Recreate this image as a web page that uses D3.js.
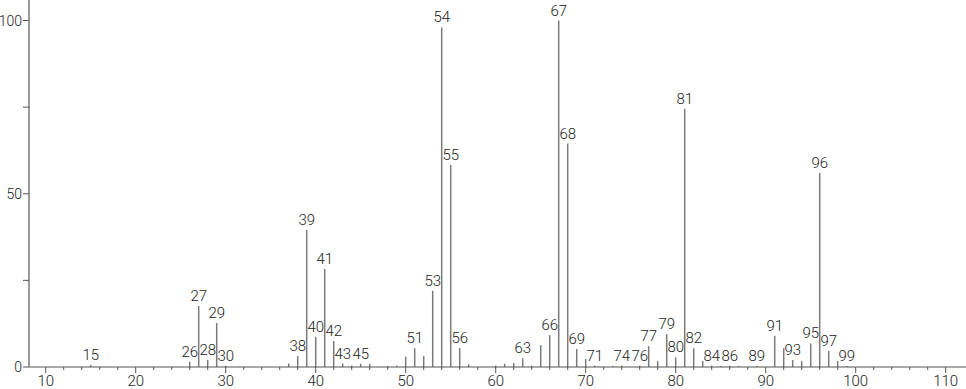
<!DOCTYPE html>
<html>
<head>
<meta charset="utf-8">
<script src="https://cdn.jsdelivr.net/npm/d3@7"></script>
<style>
  body { margin: 0; background: #fff; }
  svg text { font-family: Roboto, "Noto Sans", sans-serif; font-weight: 300; fill: #222; }
</style>
</head>
<body>
<svg id="chart" width="966" height="389"></svg>
<script>
// m/z values and relative intensities
const mz = [15, 26, 27, 28, 29, 30, 37, 38, 39, 40, 41, 42, 43, 44, 45, 46, 48, 49, 50, 51, 52, 53, 54, 55, 56, 57,
    60, 61, 62, 63, 64, 65, 66, 67, 68, 69, 70, 71, 73, 74, 76, 77, 78, 79, 80, 81, 82, 83, 84, 85, 86, 87, 89,
    91, 92, 93, 94, 95, 96, 97, 98, 99];
const intensity = [0.6, 1.5, 17.6, 2, 12.7, 0.4, 1, 3.2, 39.5, 8.7, 28.3, 7.5, 1, 0.4, 0.9, 0.9, 0.3, 0.4, 3, 5.4, 3.2, 22, 98, 58.3, 5.5, 0.8,
    0.4, 0.9, 1.2, 2.5, 0.4, 6.3, 9.2, 100, 64.5, 5.2, 2.3, 0.4, 0.3, 0.4, 0.4, 6, 1.7, 9.5, 2.8, 74.5, 5.4, 1.7, 0.4, 0.3, 0.4, 0.3, 0.3,
    9, 5.4, 2, 1.7, 6.8, 56, 4.6, 1.7, 0.3];
const labelled = [15, 26, 27, 28, 29, 30, 38, 39, 40, 41, 42, 43, 45, 51, 53, 54, 55, 56, 63, 66, 67, 68, 69, 71,
    74, 76, 77, 79, 80, 81, 82, 84, 86, 89, 91, 93, 95, 96, 97, 99];
const xTicks = [10, 20, 30, 40, 50, 60, 70, 80, 90, 100, 110];
const yTicks = [0, 50, 100];

const svg = d3.select('#chart');
const W = 966;
const x = d3.scaleLinear().domain([10, 110]).range([45.7, 945.7]);
const y = d3.scaleLinear().domain([0, 100]).range([367, 20.5]);
const x0 = 29;

const peaks = mz.map((m, i) => ({m: m, v: intensity[i]}));

// peaks
svg.append('g').selectAll('line.peak')
    .data(peaks)
    .join('line').attr('class', 'peak')
    .attr('x1', d => x(d.m)).attr('x2', d => x(d.m))
    .attr('y1', y(0)).attr('y2', d => y(d.v))
    .attr('stroke', '#7a7a7a')
    .attr('stroke-width', 1.5);

// x axis
const gx = svg.append('g');
gx.append('line')
    .attr('x1', x0).attr('x2', W).attr('y1', y(0)).attr('y2', y(0))
    .attr('stroke', '#555').attr('stroke-width', 1.2);
gx.selectAll('line.minor')
    .data(d3.range(12, 111, 2).filter(v => v % 10 !== 0))
    .join('line').attr('class', 'minor')
    .attr('x1', d => x(d)).attr('x2', d => x(d))
    .attr('y1', y(0)).attr('y2', y(0) + 3)
    .attr('stroke', '#555');
gx.selectAll('line.major')
    .data(xTicks)
    .join('line').attr('class', 'major')
    .attr('x1', d => x(d)).attr('x2', d => x(d))
    .attr('y1', y(0)).attr('y2', y(0) + 6)
    .attr('stroke', '#555');
gx.selectAll('text')
    .data(xTicks)
    .join('text')
    .attr('x', d => x(d)).attr('y', 386)
    .attr('text-anchor', 'middle')
    .style('font-size', '15px')
    .text(d => d);

// y axis
const gy = svg.append('g');
gy.append('line')
    .attr('x1', x0).attr('x2', x0).attr('y1', 0).attr('y2', y(0))
    .attr('stroke', '#999').attr('stroke-width', 2);
gy.selectAll('line.tick')
    .data([0, 25, 50, 75, 100])
    .join('line').attr('class', 'tick')
    .attr('x1', x0 - 6).attr('x2', x0)
    .attr('y1', d => y(d)).attr('y2', d => y(d))
    .attr('stroke', '#555');
gy.selectAll('text')
    .data(yTicks)
    .join('text')
    .attr('x', 22).attr('y', d => y(d) + 5)
    .attr('text-anchor', 'end')
    .style('font-size', '14px')
    .text(d => d);

// peak labels
svg.append('g').selectAll('text')
    .data(peaks.filter(d => labelled.includes(d.m)))
    .join('text')
    .attr('x', d => x(d.m)).attr('y', d => y(d.v) - 5)
    .attr('text-anchor', 'middle')
    .style('font-size', '15px')
    .text(d => d.m);
</script>
</body>
</html>
